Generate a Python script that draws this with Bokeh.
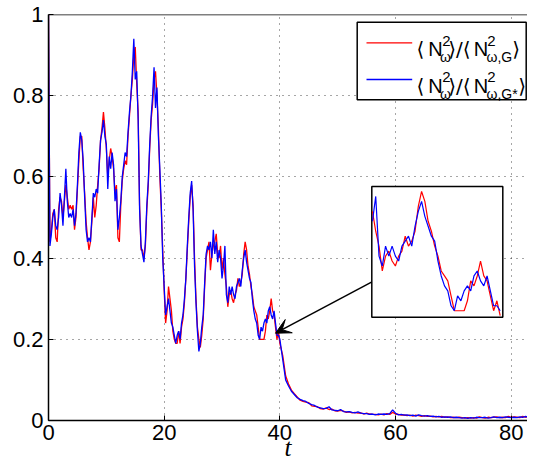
import numpy as np
from bokeh.plotting import figure
from bokeh.models import Range1d, FixedTicker, BoxAnnotation, Label, Arrow, VeeHead, Span
from bokeh.embed import file_html
from bokeh.resources import INLINE

# ---------------- data ----------------
t_early = [i * 0.25 for i in range(161)]          # 0 .. 40
blue_early = [
    1.00, 0.43, 0.46, 0.50, 0.52, 0.48, 0.47, 0.50, 0.56, 0.53,
    0.48, 0.55, 0.62, 0.54, 0.50, 0.51, 0.50, 0.52, 0.48, 0.51,
    0.58, 0.66, 0.71, 0.69, 0.64, 0.55, 0.47, 0.44, 0.45, 0.44,
    0.50, 0.56, 0.55, 0.57, 0.56, 0.63, 0.69, 0.71, 0.74, 0.70,
    0.68, 0.57, 0.65, 0.62, 0.66, 0.63, 0.54, 0.57, 0.47, 0.50,
    0.54, 0.60, 0.63, 0.66, 0.65, 0.71, 0.76, 0.80, 0.86, 0.94,
    0.84, 0.86, 0.74, 0.52, 0.43, 0.41, 0.39, 0.44, 0.53, 0.59,
    0.68, 0.75, 0.80, 0.87, 0.77, 0.82, 0.70, 0.62, 0.53, 0.40,
    0.33, 0.26, 0.28, 0.30, 0.27, 0.24, 0.23, 0.21, 0.19, 0.21,
    0.22, 0.20, 0.24, 0.26, 0.30, 0.35, 0.43, 0.50, 0.56, 0.59,
    0.52, 0.38, 0.29, 0.22, 0.17, 0.19, 0.23, 0.26, 0.34, 0.41,
    0.43, 0.42, 0.44, 0.40, 0.47, 0.41, 0.44, 0.39, 0.42, 0.40,
    0.35, 0.38, 0.43, 0.31, 0.29, 0.33, 0.31, 0.33, 0.31, 0.30,
    0.33, 0.34, 0.35, 0.33, 0.37, 0.40, 0.42, 0.39, 0.37, 0.35,
    0.34, 0.30, 0.27, 0.25, 0.24, 0.21, 0.20, 0.23, 0.22, 0.24,
    0.25, 0.24, 0.27, 0.28, 0.26, 0.25, 0.27, 0.24, 0.21, 0.21,
    0.20,
]
red_early = [
    1.00, 0.44, 0.47, 0.51, 0.52, 0.45, 0.44, 0.52, 0.55, 0.54,
    0.50, 0.54, 0.58, 0.55, 0.52, 0.53, 0.52, 0.53, 0.47, 0.50,
    0.57, 0.64, 0.70, 0.70, 0.62, 0.56, 0.49, 0.45, 0.42, 0.44,
    0.49, 0.55, 0.50, 0.53, 0.58, 0.62, 0.69, 0.72, 0.76, 0.72,
    0.67, 0.60, 0.64, 0.67, 0.65, 0.62, 0.56, 0.58, 0.45, 0.44,
    0.53, 0.59, 0.62, 0.64, 0.63, 0.70, 0.75, 0.80, 0.84, 0.90,
    0.92, 0.83, 0.76, 0.53, 0.42, 0.42, 0.40, 0.43, 0.52, 0.58,
    0.67, 0.74, 0.78, 0.84, 0.86, 0.80, 0.72, 0.60, 0.52, 0.42,
    0.32, 0.24, 0.27, 0.33, 0.30, 0.27, 0.22, 0.20, 0.19, 0.19,
    0.22, 0.19, 0.23, 0.25, 0.29, 0.35, 0.42, 0.49, 0.55, 0.58,
    0.53, 0.40, 0.30, 0.23, 0.20, 0.18, 0.21, 0.25, 0.33, 0.40,
    0.42, 0.44, 0.37, 0.41, 0.43, 0.44, 0.46, 0.41, 0.40, 0.43,
    0.37, 0.40, 0.36, 0.33, 0.28, 0.31, 0.32, 0.30, 0.29, 0.31,
    0.32, 0.35, 0.33, 0.34, 0.36, 0.41, 0.44, 0.42, 0.38, 0.36,
    0.33, 0.31, 0.28, 0.27, 0.26, 0.23, 0.20, 0.20, 0.20, 0.20,
    0.22, 0.26, 0.25, 0.27, 0.30, 0.27, 0.26, 0.23, 0.20, 0.22,
    0.19,
]
t_late = [40.5 + i * 0.5 for i in range(90)]      # 40.5 .. 85
blue_late = [
    0.150, 0.100, 0.085, 0.072, 0.064, 0.056, 0.052, 0.049, 0.047, 0.042,
    0.039, 0.037, 0.033, 0.031, 0.029, 0.030, 0.034, 0.026, 0.025, 0.024,
    0.027, 0.022, 0.021, 0.022, 0.020, 0.019, 0.021, 0.018, 0.017, 0.017,
    0.015, 0.016, 0.014, 0.016, 0.015, 0.016, 0.015, 0.017, 0.026, 0.018,
    0.014, 0.015, 0.013, 0.014, 0.012, 0.013, 0.011, 0.014, 0.012, 0.011,
    0.012, 0.010, 0.011, 0.009, 0.010, 0.008, 0.009, 0.008, 0.009, 0.007,
    0.008, 0.007, 0.006, 0.007, 0.005, 0.007, 0.006, 0.008, 0.007, 0.007,
    0.008, 0.006, 0.007, 0.009, 0.007, 0.008, 0.007, 0.009, 0.008, 0.007,
    0.008, 0.007, 0.009, 0.008, 0.010, 0.007, 0.008, 0.012, 0.008, 0.009,
]
red_late = [
    0.160, 0.110, 0.090, 0.075, 0.066, 0.058, 0.050, 0.047, 0.045, 0.044,
    0.036, 0.035, 0.034, 0.029, 0.028, 0.031, 0.027, 0.028, 0.024, 0.023,
    0.025, 0.023, 0.020, 0.021, 0.019, 0.020, 0.018, 0.019, 0.016, 0.018,
    0.016, 0.015, 0.015, 0.014, 0.016, 0.014, 0.017, 0.015, 0.020, 0.016,
    0.015, 0.013, 0.014, 0.012, 0.013, 0.011, 0.013, 0.012, 0.010, 0.012,
    0.010, 0.011, 0.009, 0.010, 0.009, 0.010, 0.008, 0.009, 0.007, 0.008,
    0.007, 0.008, 0.007, 0.006, 0.007, 0.006, 0.007, 0.006, 0.009, 0.007,
    0.006, 0.008, 0.007, 0.008, 0.009, 0.007, 0.008, 0.007, 0.010, 0.008,
    0.009, 0.008, 0.007, 0.010, 0.008, 0.011, 0.008, 0.009, 0.011, 0.008,
]
x_ticks = [0, 20, 40, 60, 80]
y_ticks = [0, 0.2, 0.4, 0.6, 0.8, 1]
y_tick_labels = ["0", "0.2", "0.4", "0.6", "0.8", "1"]
x_label = "t"
inset_t = (30.2, 40.2)
inset_v = (0.187, 0.45)

t_all = np.array(t_early + t_late)
red_all = np.array(red_early + red_late)
blue_all = np.array(blue_early + blue_late)

# ---------------- layout helpers (canvas pixels -> data) ----------------
W, H = 527, 464
FL, FT, FB = 48.0, 14.0, 420.0
PX_PER_T = 487.0 / 84.2
X_END = (W - FL) / PX_PER_T


def X(px):
    return (px - FL) / PX_PER_T


def Y(py):
    return (FB - py) / (FB - FT)


RED = "#ff0000"
BLUE = "#0000ff"
FONT = "Liberation Sans"

p = figure(width=W, height=H, x_range=Range1d(0, X_END), y_range=Range1d(0, 1),
           output_backend="svg", toolbar_location=None,
           min_border_left=int(FL), min_border_right=0, min_border_top=int(FT),
           min_border_bottom=int(H - FB),
           outline_line_color=None, background_fill_color="white")

for ax in (p.xaxis[0], p.yaxis[0]):
    ax.axis_line_color = "black"
    ax.axis_line_width = 1.5
    ax.major_tick_in = 5
    ax.major_tick_out = 0
    ax.major_tick_line_color = "black"
    ax.minor_tick_line_color = None
    ax.major_label_text_font = FONT
    ax.major_label_text_font_size = "22px"
    ax.major_label_text_color = "black"

p.xaxis.ticker = FixedTicker(ticks=x_ticks)
p.yaxis.ticker = FixedTicker(ticks=y_ticks)
p.yaxis.major_label_overrides = {k: v for k, v in zip(y_ticks, y_tick_labels)}
p.xaxis.major_label_standoff = 4
p.yaxis.major_label_standoff = 5

p.xaxis.axis_label = x_label
p.xaxis.axis_label_text_font = "Liberation Serif"
p.xaxis.axis_label_text_font_style = "italic"
p.xaxis.axis_label_text_font_size = "25px"
p.xaxis.axis_label_text_color = "black"
p.xaxis.axis_label_standoff = -9

for g in (p.xgrid[0], p.ygrid[0]):
    g.grid_line_color = "black"
    g.grid_line_alpha = 0.7
    g.grid_line_dash = "1 5"
    g.grid_line_width = 1

p.add_layout(Span(location=1, dimension="width", line_color="black", line_width=1.5))

# main curves
p.line(t_all, red_all, line_color=RED, line_width=1.3)
p.line(t_all, blue_all, line_color=BLUE, line_width=1.3)

# inset
sub = p.subplot(x_source=Range1d(*inset_t), y_source=Range1d(*inset_v),
                x_target=Range1d(X(371.3), X(502.3)), y_target=Range1d(Y(316.7), Y(186.0)))
sub.quad(left=[inset_t[0]], right=[inset_t[1]], bottom=[inset_v[0]], top=[inset_v[1]],
         fill_color="white", line_color="black", line_width=1.5)
te = np.array(t_early)
mask = (te >= inset_t[0]) & (te <= inset_t[1])
sub.line(te[mask], np.array(red_early)[mask], line_color=RED, line_width=1.2)
sub.line(te[mask], np.array(blue_early)[mask], line_color=BLUE, line_width=1.2)

# arrow
p.add_layout(Arrow(end=VeeHead(size=15, fill_color="black", line_color="black"),
                   x_start=X(371), y_start=Y(281.7), x_end=X(275), y_end=Y(332.7),
                   line_color="black", line_width=1.5))

# legend (shifted 5px left so it fits the canvas)
LX = -5.0
p.add_layout(BoxAnnotation(left=X(361.7 + LX), right=X(530.7 + LX), top=Y(21.7), bottom=Y(99.3),
                           fill_color="white", fill_alpha=1.0, line_color="black",
                           line_width=1.5, line_alpha=1.0))
for py, col in ((42.3, RED), (79.0, BLUE)):
    p.add_layout(Arrow(end=None, x_start=X(371 + LX), y_start=Y(py), x_end=X(416.7 + LX),
                       y_end=Y(py), line_color=col, line_width=1.3))


def txt(px, py, s, size, font=FONT, style="normal", align="left"):
    p.add_layout(Label(x=X(px), y=Y(py), text=s, text_font=font, text_font_size=f"{size}px",
                       text_font_style=style, text_align=align, text_baseline="alphabetic",
                       text_color="black"))


for base, sub_txt, close_x in ((48.3, "ω,G", 516.7), (85.0, "ω,G*", 522.7)):
    txt(421.0 + LX, base, "⟨", 20, font="DejaVu Sans")
    txt(432.7 + LX, base, "N", 20)
    txt(446.7 + LX, base - 8.3, "2", 15)
    txt(444.5 + LX, base + 8.5, "ω", 14)
    txt(452.7 + LX, base, "⟩/⟨", 20, font="DejaVu Sans")
    txt(478.3 + LX, base, "N", 20)
    txt(491.7 + LX, base - 8.3, "2", 15)
    txt(491.0 + LX, base + 8.5, sub_txt, 14)
    txt(close_x + LX, base, "⟩", 20, font="DejaVu Sans")

open("out.html", "w").write(file_html(p, INLINE))
